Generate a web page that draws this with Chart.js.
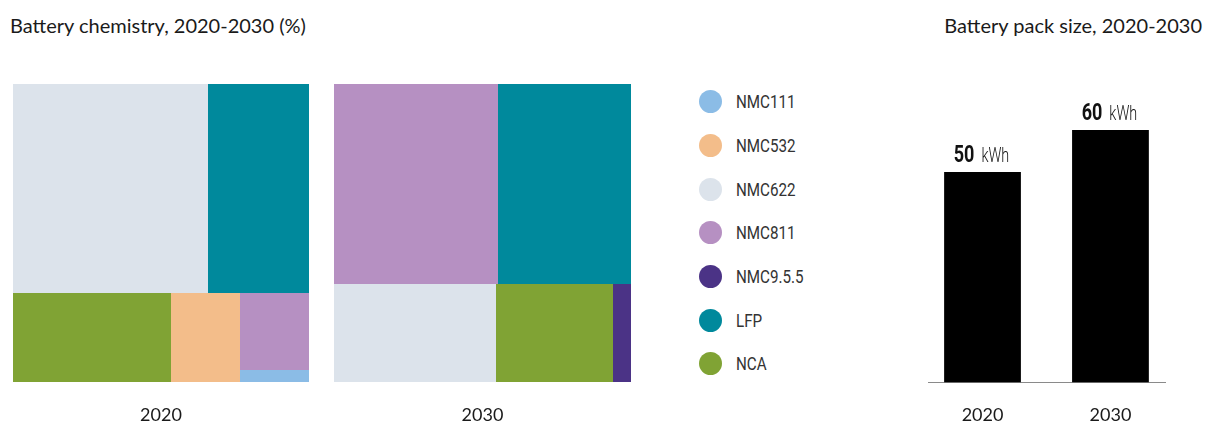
<!DOCTYPE html>
<html>
<head>
<meta charset="utf-8">
<script src="https://cdn.jsdelivr.net/npm/chart.js@4.4.1/dist/chart.umd.min.js"></script>
<style>
  body { margin: 0; width: 1211px; height: 424px; background: #fff; position: relative; overflow: hidden; font-family: Lato, "Open Sans", sans-serif; color: #1a1a1a; }
  .title { position: absolute; top: 13px; font-size: 20px; line-height: 24px; white-space: nowrap; }
  #leftTitle { left: 10px; }
  #rightTitle { right: 9px; }
  canvas { position: absolute; }
  #legend { position: absolute; left: 699px; top: 80px; }
  .item { display: flex; align-items: center; height: 43.67px; }
  .dot { width: 23px; height: 23px; border-radius: 50%; margin-right: 14px; }
  .name { display: inline-block; font-family: Roboto, sans-serif; font-size: 19px; color: #333; transform: scaleX(0.8); transform-origin: left center; }
</style>
</head>
<body>
<div class="title" id="leftTitle">Battery chemistry, 2020-2030 (%)</div>
<div class="title" id="rightTitle">Battery pack size, 2020-2030</div>
<div style="position:absolute;left:13px;top:84px;width:296px;height:342px"><canvas id="tree2020"></canvas></div>
<div style="position:absolute;left:334px;top:84px;width:297px;height:342px"><canvas id="tree2030"></canvas></div>
<div id="legend"></div>
<div style="position:absolute;left:928px;top:88px;width:238px;height:360px"><canvas id="packChart"></canvas></div>
<script>
// chemistry shares (%), in legend order
const chemistries = ['NMC111', 'NMC532', 'NMC622', 'NMC811', 'NMC9.5.5', 'LFP', 'NCA'];
const share2020 = [1, 7, 46, 6, 0, 24, 16];
const share2030 = [0, 0, 18, 37, 2, 30, 13];
const chemColors = ['#8bbce6', '#f3bd8a', '#dce3eb', '#b690c2', '#4b3386', '#00899c', '#80a334'];

// battery pack size
const packYears = ['2020', '2030'];
const packSize = [50, 60];
const packUnit = 'kWh';

const labelFont = { family: 'Lato, "Open Sans", sans-serif', size: 18 };

// squarified layout (aspect ratio 1), rows go across the top while the space is taller than wide
function squarify(nodes, x0, y0, x1, y1) {
  let total = nodes.reduce((s, d) => s + d.value, 0);
  let i0 = 0;
  while (i0 < nodes.length) {
    const dx = x1 - x0, dy = y1 - y0;
    let i1 = i0 + 1;
    let sum = nodes[i0].value, min = sum, max = sum;
    const alpha = Math.max(dy / dx, dx / dy) / total;
    let beta = sum * sum * alpha;
    let best = Math.max(max / beta, beta / min);
    for (; i1 < nodes.length; i1++) {
      const v = nodes[i1].value;
      const s = sum + v;
      const b = s * s * alpha;
      const r = Math.max(Math.max(max, v) / b, b / Math.min(min, v));
      if (r > best) break;
      sum = s; min = Math.min(min, v); max = Math.max(max, v); best = r;
    }
    const row = nodes.slice(i0, i1);
    if (dx <= dy) {
      const h = dy * sum / total;
      let cx = x0;
      row.forEach(d => { const w = dx * d.value / sum; Object.assign(d, { x0: cx, x1: cx + w, y0: y0, y1: y0 + h }); cx += w; });
      y0 += h;
    } else {
      const w = dx * sum / total;
      let cy = y0;
      row.forEach(d => { const h = dy * d.value / sum; Object.assign(d, { x0: x0, x1: x0 + w, y0: cy, y1: cy + h }); cy += h; });
      x0 += w;
    }
    total -= sum;
    i0 = i1;
  }
  return nodes;
}

const treemapPlugin = {
  id: 'treemapLite',
  beforeDatasetsDraw(chart) {
    const { ctx, scales: { x, y } } = chart;
    const shares = chart.data.datasets[0].shares;
    const nodes = chart.data.labels
      .map((label, i) => ({ label, value: shares[i], color: chemColors[i] }))
      .filter(d => d.value > 0)
      .sort((a, b) => b.value - a.value);
    squarify(nodes, 0, 0, 100, 100);
    ctx.save();
    nodes.forEach(d => {
      const left = Math.round(x.getPixelForValue(d.x0));
      const right = Math.round(x.getPixelForValue(d.x1));
      const top = Math.round(y.getPixelForValue(d.y0));
      const bottom = Math.round(y.getPixelForValue(d.y1));
      ctx.fillStyle = d.color;
      ctx.fillRect(left, top, right - left, bottom - top);
    });
    ctx.restore();
  }
};

function makeTreemap(id, year, shares) {
  return new Chart(document.getElementById(id), {
    type: 'scatter',
    data: { labels: chemistries, datasets: [{ label: year, data: [], shares }] },
    options: {
      responsive: true,
      maintainAspectRatio: false,
      animation: false,
      layout: { padding: 0 },
      plugins: { legend: { display: false }, tooltip: { enabled: false } },
      scales: {
        x: {
          min: 0, max: 100,
          grid: { display: false, drawTicks: false },
          border: { display: false },
          ticks: { display: false },
          title: { display: true, text: year, color: '#1a1a1a', font: labelFont, padding: { top: 22, bottom: 0 } }
        },
        y: { display: false, min: 0, max: 100, reverse: true }
      }
    },
    plugins: [treemapPlugin]
  });
}

makeTreemap('tree2020', '2020', share2020);
makeTreemap('tree2030', '2030', share2030);

// html legend
const legend = document.getElementById('legend');
chemistries.forEach((name, i) => {
  const row = document.createElement('div');
  row.className = 'item';
  row.innerHTML = `<span class="dot" style="background:${chemColors[i]}"></span><span class="name">${name}</span>`;
  legend.appendChild(row);
});

// "50 kWh" style labels: condensed bold number, light unit
function condensedText(ctx, text, x, y, font, squeeze) {
  ctx.save();
  ctx.font = font;
  ctx.translate(x, y);
  ctx.scale(squeeze, 1);
  ctx.fillText(text, 0, 0);
  ctx.restore();
}

const valueLabels = {
  id: 'valueLabels',
  afterDatasetsDraw(chart) {
    const { ctx } = chart;
    const meta = chart.getDatasetMeta(0);
    const bold = 'bold 24px Roboto, sans-serif';
    const light = '300 20px Roboto, sans-serif';
    ctx.save();
    ctx.textBaseline = 'alphabetic';
    ctx.textAlign = 'left';
    ctx.fillStyle = '#111';
    meta.data.forEach((bar, i) => {
      const num = String(packSize[i]);
      ctx.font = bold;
      const w1 = ctx.measureText(num).width * 0.75;
      ctx.font = light;
      const w2 = ctx.measureText(packUnit).width * 0.72;
      const gap = 7;
      const start = bar.x - (w1 + gap + w2) / 2 - 1;
      const base = bar.y - 10;
      condensedText(ctx, num, start, base, bold, 0.75);
      condensedText(ctx, packUnit, start + w1 + gap, base, light, 0.72);
    });
    ctx.restore();
  }
};

new Chart(document.getElementById('packChart'), {
  type: 'bar',
  data: {
    datasets: [{
      data: packSize.map((v, i) => ({ x: i, y: v })),
      backgroundColor: '#000',
      barPercentage: 0.6,
      categoryPercentage: 1
    }]
  },
  options: {
    responsive: true,
    maintainAspectRatio: false,
    animation: false,
    layout: { padding: 0 },
    plugins: { legend: { display: false }, tooltip: { enabled: false } },
    scales: {
      x: {
        type: 'linear',
        offset: false,
        min: -0.426, max: 1.434,
        afterBuildTicks: axis => { axis.ticks = packYears.map((_, i) => ({ value: i })); },
        grid: { display: false, drawTicks: false, offset: false },
        border: { display: true, color: '#8a8a8a', width: 1 },
        ticks: { color: '#1a1a1a', font: labelFont, padding: 22, autoSkip: false, maxRotation: 0, callback: v => packYears[v] }
      },
      y: { display: false, min: 0, max: 70 }
    }
  },
  plugins: [valueLabels]
});
</script>
</body>
</html>
